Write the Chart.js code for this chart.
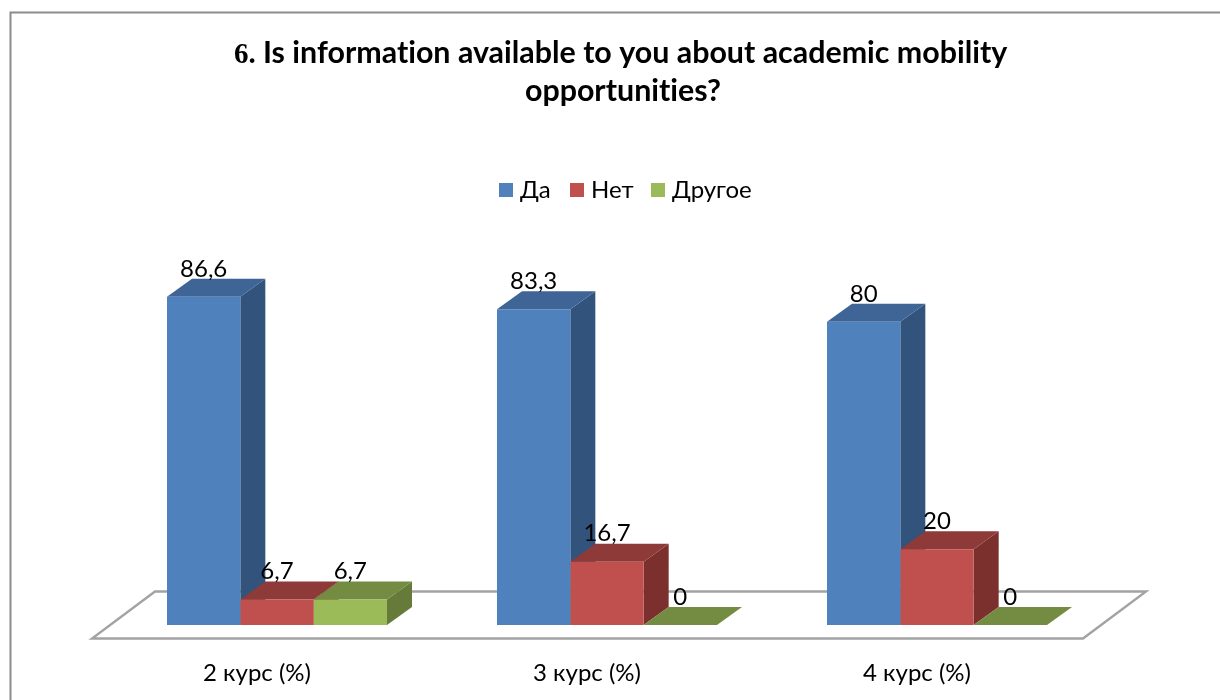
<!DOCTYPE html>
<html><head><meta charset="utf-8">
<style>html,body{margin:0;padding:0;background:#fff}canvas{display:block}</style>
<script src="https://cdn.jsdelivr.net/npm/chart.js@4/dist/chart.umd.min.js"></script>
</head><body>
<canvas id="c" width="1220" height="700"></canvas>
<script>
const categories = ['2 курс (%)', '3 курс (%)', '4 курс (%)'];
const da = [86.6, 83.3, 80];
const net = [6.7, 16.7, 20];
const drugoe = [6.7, 0, 0];
const seriesNames = ['Да', 'Нет', 'Другое'];
const titleNumber = '6.';
const titleLines = ['Is information available to you about academic mobility', 'opportunities?'];

const FONT = 'Lato, "Noto Sans", sans-serif';
const front = ['#4F81BD', '#C0504D', '#9BBB59'];
const topFace = ['#3E6595', '#8E3A38', '#748C42'];
const sideFace = ['#31537C', '#7B302E', '#667B3A'];
const DX = 25, DY = -18;
const legendBoxes = [499, 570, 651];

const three = {
  id: 'three',
  beforeDraw(chart) {
    const c = chart.ctx;
    c.save();
    c.textRendering = 'optimizeSpeed';
    c.fillStyle = '#fff';
    c.fillRect(0, 0, chart.width, chart.height);
    c.strokeStyle = '#8C8C8C';
    c.lineWidth = 2;
    c.beginPath();
    c.moveTo(10.5, chart.height); c.lineTo(10.5, 12.5); c.lineTo(chart.width, 12.5);
    c.stroke();
    // title
    c.fillStyle = '#000';
    c.textBaseline = 'alphabetic';
    c.textAlign = 'left';
    c.font = 'bold 29px "Liberation Serif", serif';
    c.fillText(titleNumber, 234, 63);
    c.font = 'bold 30.4px ' + FONT;
    c.fillText(titleLines[0], 263, 63);
    c.textAlign = 'center';
    c.fillText(titleLines[1], 623, 101);
    // legend
    c.textAlign = 'left';
    c.textBaseline = 'middle';
    c.font = '24px ' + FONT;
    seriesNames.forEach((n, s) => {
      c.fillStyle = front[s];
      c.fillRect(legendBoxes[s], 183, 14, 14);
      c.fillStyle = '#000';
      c.fillText(n, legendBoxes[s] + 21, 190);
    });
    c.restore();
  },
  beforeDatasetsDraw(chart) {
    const c = chart.ctx, a = chart.chartArea;
    const base = chart.scales.y.getPixelForValue(0);
    c.save();
    // floor
    c.beginPath();
    c.moveTo(a.left - 20, base + 13.5);
    c.lineTo(a.right - 19, base + 13.5);
    c.lineTo(a.right + 44, base - 33.5);
    c.lineTo(a.left + 43, base - 33.5);
    c.closePath();
    c.strokeStyle = '#A3A3A3';
    c.lineWidth = 2.4;
    c.stroke();
    // depth faces
    categories.forEach((_, i) => {
      chart.data.datasets.forEach((ds, s) => {
        const b = chart.getDatasetMeta(s).data[i];
        const l = b.x - b.width / 2, r = b.x + b.width / 2, t = b.y;
        c.fillStyle = sideFace[s];
        c.beginPath();
        c.moveTo(r, t); c.lineTo(r + DX, t + DY); c.lineTo(r + DX, base + DY); c.lineTo(r, base);
        c.closePath(); c.fill();
        c.fillStyle = topFace[s];
        c.beginPath();
        c.moveTo(l, t); c.lineTo(l + DX, t + DY); c.lineTo(r + DX, t + DY); c.lineTo(r, t);
        c.closePath(); c.fill();
      });
    });
    c.restore();
  },
  afterDatasetsDraw(chart) {
    const c = chart.ctx;
    c.save();
    c.fillStyle = '#000';
    c.font = '24px ' + FONT;
    c.textAlign = 'center';
    c.textBaseline = 'middle';
    chart.data.datasets.forEach((ds, s) => {
      chart.getDatasetMeta(s).data.forEach((b, i) => {
        c.fillText(String(ds.data[i]).replace('.', ','), b.x, b.y - 28);
      });
    });
    c.restore();
  }
};

new Chart(document.getElementById('c'), {
  type: 'bar',
  data: {
    labels: categories,
    datasets: [da, net, drugoe].map((d, s) => ({
      label: seriesNames[s], data: d, backgroundColor: front[s], borderWidth: 0,
      categoryPercentage: 2 / 3, barPercentage: 1
    }))
  },
  plugins: [three],
  options: {
    responsive: false, animation: false,
    layout: { padding: { left: 112, right: 118, top: 246, bottom: 0 } },
    plugins: {
      title: { display: false },
      tooltip: { enabled: false },
      legend: { display: false }
    },
    scales: {
      x: {
        grid: { display: false }, border: { display: false },
        ticks: { font: { family: FONT, size: 24 }, color: '#000', padding: 26, labelOffset: -20 },
        afterFit(s) { s.height = 75; }
      },
      y: { display: false, min: 0, max: 100 }
    }
  }
});
</script>
</body></html>
